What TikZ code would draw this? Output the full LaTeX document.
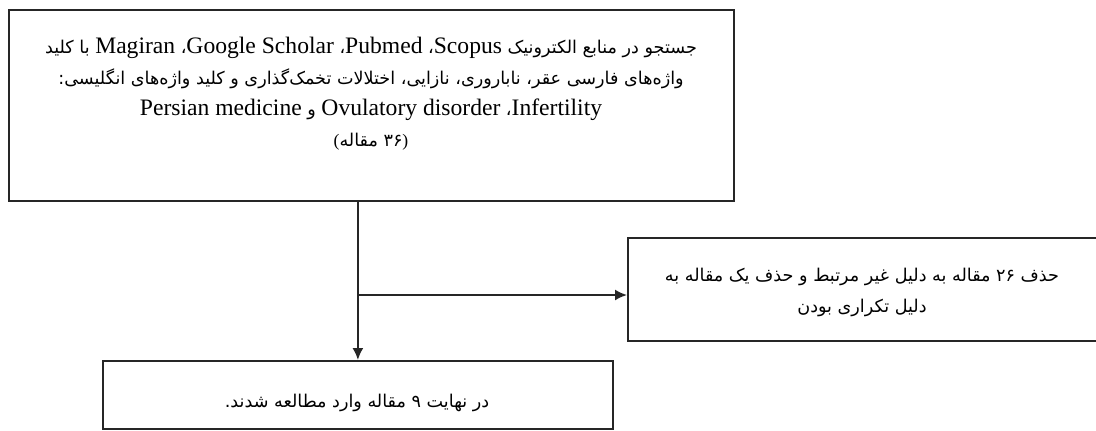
\documentclass[tikz,border=0pt]{standalone}
\usepackage{fontspec}
\setmainfont{Liberation Serif}
\newfontfamily\fa[Script=Arabic]{DejaVu Sans}
\TeXXeTstate=1
\usetikzlibrary{arrows.meta}
\newcommand\lat[1]{\beginL{\rmfamily\fontsize{11.8}{12}\selectfont #1}\endL}
\begin{document}
\begin{tikzpicture}[x=0.5pt, y=-0.5pt,
    box/.style={draw=black!85, line width=0.9pt, anchor=north west, inner sep=0pt},
    txt/.style={align=center, font=\fa\fontsize{8.8}{15.5}\selectfont},
    arr/.style={draw=black!85, line width=0.9pt, -{Latex[length=6pt,width=5.5pt]}}]
  \useasboundingbox (0,0) rectangle (1096,430);
  \node[box, minimum width=362.5pt, minimum height=95.5pt] (search) at (8,9) {};
  \node[box, minimum width=241.5pt, minimum height=51.5pt] (excluded) at (627,237) {};
  \node[box, minimum width=255pt, minimum height=34pt] (result) at (102,360) {};
  \node[txt] (searchtxt) at (371,94) {\beginR جستجو در منابع الکترونیک \lat{Scopus}، \lat{Pubmed}، \lat{Google Scholar}، \lat{Magiran}{} با کلید\endR\\
    \beginR واژه‌های فارسی عقر، ناباروری، نازایی، اختلالات تخمک‌گذاری و کلید واژه‌های انگلیسی:\endR\\
    \beginR\lat{Infertility}، \lat{Ovulatory disorder} و \lat{Persian medicine}\endR\\
    {\rmfamily(}\mbox{\beginR مقاله\endR} \mbox{۳۶}{\rmfamily)}};
  \node[txt] (excludedtxt) at (862,292) {\beginR حذف \beginL ۲۶\endL{} مقاله به دلیل غیر مرتبط و حذف یک مقاله به\endR\\
    \beginR دلیل تکراری بودن\endR};
  \node[txt] (resulttxt) at (357,403) {\beginR در نهایت ۹ مقاله وارد مطالعه شدند.\endR};
  \coordinate (branch) at (result.north |- 0,295);
  \draw[arr] (search.south -| result.north) -- (result.north);
  \draw[arr] (branch) -- (branch -| excluded.west);
\end{tikzpicture}
\end{document}
